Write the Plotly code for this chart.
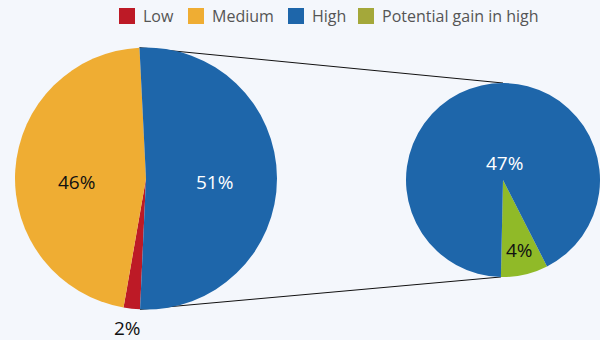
import math
import plotly.graph_objects as go

# ---- data ----
labels = ["Low", "Medium", "High"]
left_values = [2, 46, 51]
right_labels = ["Potential gain in high", "High"]
right_values = [4, 47]
legend_labels = ["Low", "Medium", "High", "Potential gain in high"]

# ---- style ----
W, H = 600, 340
BG = "#f4f7fc"
COL = {"Low": "#bd1a26", "Medium": "#efad33", "High": "#1e66aa",
       "Potential gain in high": "#90ba28"}
LEG_COL = {"Low": "#bd1a26", "Medium": "#efad33", "High": "#1e66aa",
           "Potential gain in high": "#a4a83a"}
TXT_COL = {"Low": "#111111", "Medium": "#111111", "High": "#ffffff",
           "Potential gain in high": "#111111"}
FONT = "Open Sans"

# pie boxes in pixels (x0, x1, ytop, ybottom)
left_box = (15, 277, 47, 310)
right_box = (406, 600, 82, 278)
left_rot = 182.6
right_rot = 153.0
# label placement: (angle clockwise from 12 o'clock, radius fraction)
left_lab_pos = [(186.9, 1.15), (267.1, 0.535), (92.9, 0.523)]
right_lab_pos = [(166.5, 0.745), (4.8, 0.18)]
# legend layout (pixels)
leg_swatch_x = [119, 188, 288, 358]
leg_y = 16
leg_sw = 16


def dom(box):
    x0, x1, yt, yb = box
    return dict(x=[x0 / W, x1 / W], y=[1 - yb / H, 1 - yt / H])


def geom(box):
    x0, x1, yt, yb = box
    r = min(x1 - x0, yb - yt) / 2
    return ((x0 + x1) / 2, (yt + yb) / 2, r)


def pt(box, ang, frac=1.0):
    cx, cy, r = geom(box)
    a = math.radians(ang)
    return (cx + frac * r * math.sin(a)) / W, 1 - (cy - frac * r * math.cos(a)) / H


fig = go.Figure()

fig.add_trace(go.Pie(
    labels=labels, values=left_values, domain=dom(left_box),
    sort=False, direction="clockwise", rotation=left_rot,
    marker=dict(colors=[COL[l] for l in labels], line=dict(width=0)),
    textinfo="none", showlegend=False, hoverinfo="label+value",
))

fig.add_trace(go.Pie(
    labels=right_labels, values=right_values, domain=dom(right_box),
    sort=False, direction="clockwise", rotation=right_rot,
    marker=dict(colors=[COL[l] for l in right_labels], line=dict(width=0)),
    textinfo="none", showlegend=False, hoverinfo="label+value",
))

# value labels
for box, labs, vals, poss in [(left_box, labels, left_values, left_lab_pos),
                              (right_box, right_labels, right_values, right_lab_pos)]:
    for l, v, (ang, fr) in zip(labs, vals, poss):
        x, y = pt(box, ang, fr)
        fig.add_annotation(x=x, y=y, xref="paper", yref="paper", text=f"{v}%",
                           showarrow=False, xanchor="center", yanchor="middle",
                           font=dict(family=FONT, size=19, color=TXT_COL[l]))

# connector lines
lt = pt(left_box, left_rot + (left_values[0] + left_values[1]) / sum(left_values) * 360)
lb = pt(left_box, left_rot)
rt = pt(right_box, 0)
rb = pt(right_box, right_rot + right_values[0] / sum(right_values) * 360)
for a, b in [(lt, rt), (lb, rb)]:
    fig.add_shape(type="line", xref="paper", yref="paper",
                  x0=a[0], y0=a[1], x1=b[0], y1=b[1],
                  line=dict(color="#111", width=1), layer="below")

# legend
for l, sx in zip(legend_labels, leg_swatch_x):
    fig.add_shape(type="rect", xref="paper", yref="paper",
                  x0=sx / W, x1=(sx + leg_sw) / W,
                  y0=1 - (leg_y + leg_sw / 2) / H, y1=1 - (leg_y - leg_sw / 2) / H,
                  fillcolor=LEG_COL[l], line=dict(width=0))
    fig.add_annotation(x=(sx + leg_sw + 6) / W, y=1 - leg_y / H, xref="paper", yref="paper",
                       text=l, showarrow=False, xanchor="left", yanchor="middle",
                       font=dict(family=FONT, size=16, color="#555"))

fig.update_layout(
    width=W, height=H, margin=dict(l=0, r=0, t=0, b=0),
    paper_bgcolor=BG, plot_bgcolor=BG, showlegend=False,
    font=dict(family=FONT, size=16, color="#555"),
)

fig.write_html("out.html")
